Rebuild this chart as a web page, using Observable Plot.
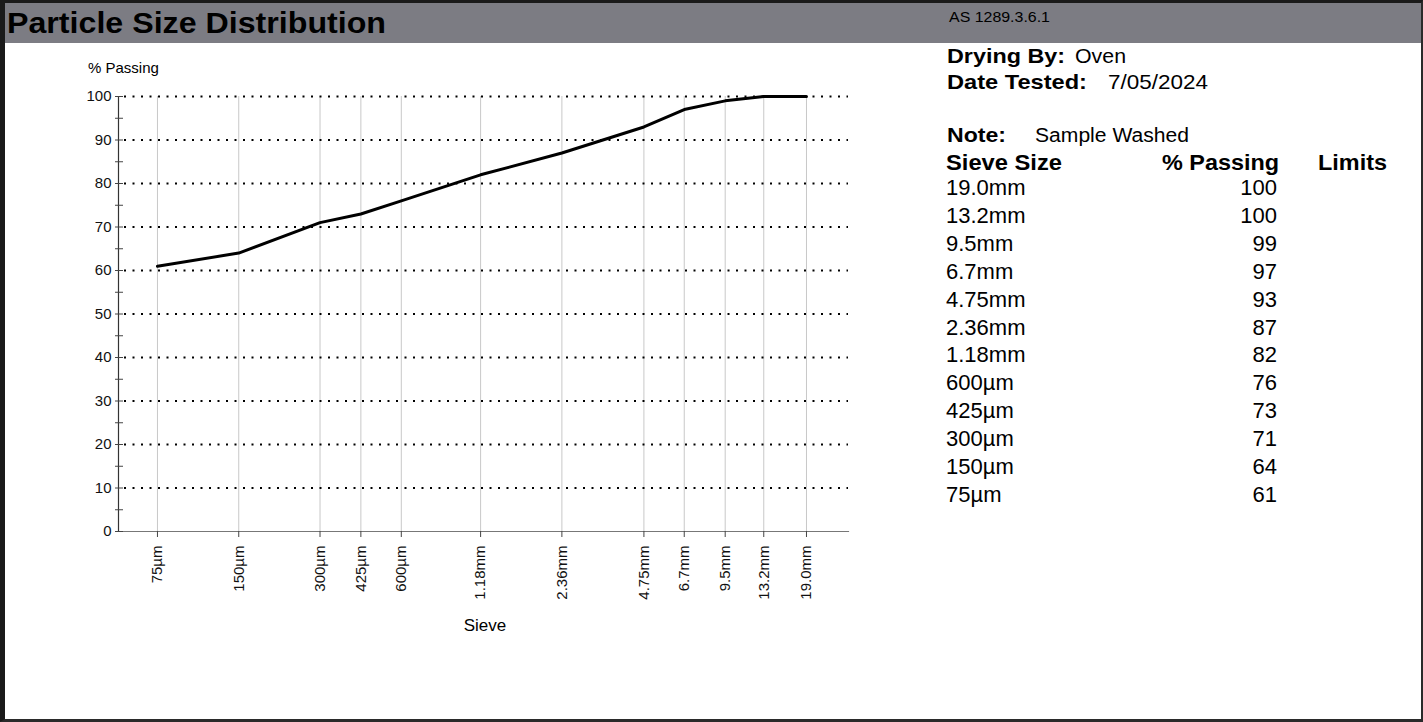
<!DOCTYPE html>
<html>
<head>
<meta charset="utf-8">
<script src="https://cdn.jsdelivr.net/npm/d3@7"></script>
<script src="https://cdn.jsdelivr.net/npm/@observablehq/plot@0.6"></script>
<style>
  html, body { margin: 0; padding: 0; background: white; }
  body { width: 1423px; height: 722px; position: relative; overflow: hidden;
         font-family: "Liberation Sans", Arial, sans-serif; }
  .abs { position: absolute; left: 0; top: 0; }
</style>
</head>
<body>
<div id="bar" class="abs" style="top:3px;width:1423px;height:40px;background:#7c7c83;"></div>
<div id="chart" class="abs"></div>
<svg id="overlay" class="abs" width="1423" height="722"></svg>
<div id="border" class="abs" style="width:1423px;height:722px;box-sizing:border-box;border-left:5px solid #1a1a1a;border-top:3px solid #1a1a1a;border-bottom:3px solid #2a2a2a;border-right:2px solid #2a2a2a;pointer-events:none;"></div>
<script>
// ---- data ----
const sieveLabels = ["75µm", "150µm", "300µm", "425µm", "600µm", "1.18mm", "2.36mm", "4.75mm", "6.7mm", "9.5mm", "13.2mm", "19.0mm"];
const sieveSizesUm = [75, 150, 300, 425, 600, 1180, 2360, 4750, 6700, 9500, 13200, 19000];
const percentPassing = [61, 64, 71, 73, 76, 82, 87, 93, 97, 99, 100, 100];
const yTicks = [0, 10, 20, 30, 40, 50, 60, 70, 80, 90, 100];
const yMinorTicks = [0, 5, 10, 15, 20, 25, 30, 35, 40, 45, 50, 55, 60, 65, 70, 75, 80, 85, 90, 95, 100];
const xDomain = [53.8, 27190];

const titleText = "Particle Size Distribution";
const standardText = "AS 1289.3.6.1";
const dryingLabel = "Drying By:", dryingValue = "Oven";
const dateLabel = "Date Tested:", dateValue = "7/05/2024";
const noteLabel = "Note:", noteValue = "Sample Washed";
const tableHeaders = ["Sieve Size", "% Passing", "Limits"];
const yAxisTitle = "% Passing";
const xAxisTitle = "Sieve";

const data = sieveSizesUm.map((s, i) => ({size: s, label: sieveLabels[i], pass: percentPassing[i]}));

const font = '"Liberation Sans", Arial, sans-serif';

const plot = Plot.plot({
  width: 920,
  height: 722,
  marginLeft: 118,
  marginRight: 72,
  marginTop: 96,
  marginBottom: 191,
  style: {background: "transparent", fontFamily: font, fontSize: "15px", color: "#111"},
  x: {type: "log", domain: xDomain},
  y: {domain: [0, 100]},
  marks: [
    Plot.ruleX(sieveSizesUm, {y1: 0, y2: 100, stroke: "#c8c8c8", strokeWidth: 1}),
    Plot.ruleY(yTicks.filter(d => d > 0), {stroke: "black", strokeWidth: 2, strokeDasharray: "2,6.5", insetLeft: 6}),
    Plot.frame({anchor: "bottom", stroke: "#777", strokeWidth: 1.2}),
    Plot.frame({anchor: "left", stroke: "#333", strokeWidth: 1.2}),
    Plot.axisY({ticks: yMinorTicks, tickSize: 3, tickPadding: 4, stroke: "#444",
      tickFormat: d => (d % 10 === 0 ? d : ""), label: null, fontSize: 15}),
    Plot.axisY({ticks: yMinorTicks, tickSize: -5, stroke: "#444", tickFormat: () => "", label: null}),
    Plot.axisX({ticks: sieveSizesUm, tickSize: 6, stroke: "#444", tickFormat: () => "", label: null}),
    Plot.text(data, {x: "size", y: 0, text: "label", rotate: -90, textAnchor: "end", dy: 14,
      fontSize: 15, fill: "#111"}),
    Plot.line(data, {x: "size", y: "pass", stroke: "black", strokeWidth: 3, strokeLinejoin: "round"})
  ]
});
plot.style.width = "920px";
plot.style.height = "722px";
plot.style.maxWidth = "none";
document.getElementById("chart").appendChild(plot);

// ---- overlay texts ----
const svg = d3.select("#overlay").style("font-family", font);
function txt(x, y, s, size, weight, anchor, len) {
  const t = svg.append("text").attr("x", x).attr("y", y).text(s)
    .attr("font-size", size).attr("font-weight", weight || "normal")
    .attr("text-anchor", anchor || "start").attr("fill", "#000");
  if (len) t.attr("textLength", len).attr("lengthAdjust", "spacingAndGlyphs");
  return t;
}
txt(7, 33, titleText, 29, "bold", "start", 379);
txt(949, 22, standardText, 14, "normal", "start", 101);
txt(947, 63, dryingLabel, 21, "bold", "start", 118);
txt(1075, 63, dryingValue, 21, "normal", "start", 51);
txt(947, 89, dateLabel, 21, "bold", "start", 140);
txt(1108, 89, dateValue, 21, "normal", "start", 100);
txt(947, 142, noteLabel, 21, "bold", "start", 59);
txt(1035, 142, noteValue, 20, "normal", "start", 154);
txt(946, 170, tableHeaders[0], 22, "bold", "start", 116);
txt(1279, 170, tableHeaders[1], 22, "bold", "end", 117);
txt(1318, 170, tableHeaders[2], 22, "bold", "start", 69);
const rows = data.slice().reverse();
rows.forEach((d, i) => {
  const y = 195 + i * 27.9;
  txt(946, y, d.label, 22);
  txt(1277, y, String(d.pass), 22, "normal", "end");
});
txt(88, 73, yAxisTitle, 15);
txt(485, 631, xAxisTitle, 17, "normal", "middle");
</script>
</body>
</html>
